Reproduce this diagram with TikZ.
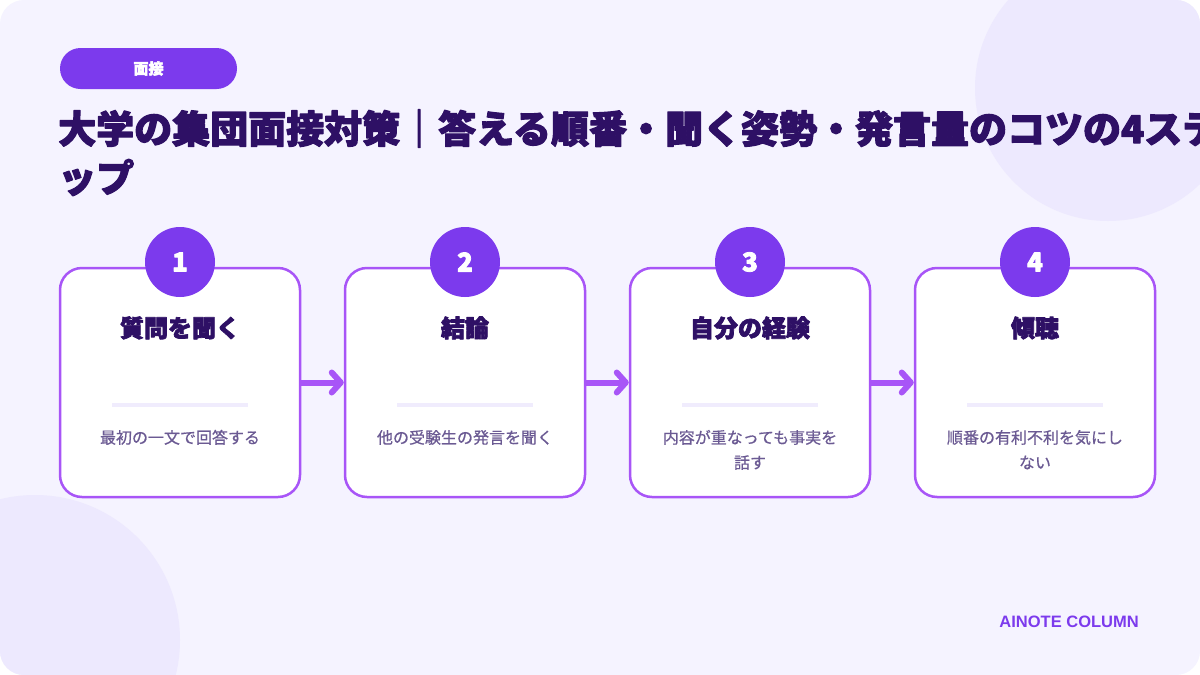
\documentclass[tikz,border=0pt]{standalone}
\usepackage{fontspec}
\usepackage{tikz}
\usetikzlibrary{arrows.meta}

\setmainfont{Noto Sans CJK JP}
\newfontfamily\jpfont{Noto Sans CJK JP}[FakeBold=0.6]
\newfontfamily\jpheavy{Noto Sans CJK JP}[FakeBold=3]
\newfontfamily\brandfont{Liberation Sans}

\definecolor{pagetint}{HTML}{F5F3FF}
\definecolor{blobtint}{HTML}{EDE9FE}
\definecolor{badgeviolet}{HTML}{7C3AED}
\definecolor{cardline}{HTML}{A855F7}
\definecolor{inkdark}{HTML}{2E1065}
\definecolor{notegray}{HTML}{6B5A93}
\definecolor{ruleline}{HTML}{F0ECFD}

\begin{document}
\begin{tikzpicture}[x=1pt,y=-1pt,line join=round,
  stepcard/.style={draw=cardline,line width=2.5pt,fill=white,rounded corners=22pt,
    minimum width=240pt,minimum height=229pt,inner sep=0pt},
  badge/.style={circle,fill=badgeviolet,minimum size=70pt,inner sep=0pt,text=white,
    font=\jpheavy\bfseries\fontsize{26}{26}\selectfont},
  steptitle/.style={anchor=base,inner sep=0pt,text=inkdark,
    font=\jpheavy\bfseries\fontsize{24}{24}\selectfont},
  stepnote/.style={anchor=base,inner sep=0pt,align=center,text=notegray,
    font=\jpfont\fontsize{16}{25}\selectfont},
  divider/.style={draw=ruleline,line width=4pt},
  flow/.style={draw=cardline,line width=6pt,
    -{Straight Barb[length=9pt,width=20pt,round]}}]
  \useasboundingbox (0,0) rectangle (1200,675);
  \fill[white] (0,0) rectangle (1200,675);
  \fill[pagetint,rounded corners=24pt] (0,0) rectangle (1200,675);
  \begin{scope}
    \clip[rounded corners=24pt] (0,0) rectangle (1200,675);
    \fill[blobtint] (1108,88) circle (133);
    \fill[blobtint] (35,640) circle (145);
  \end{scope}

  % header
  \node[fill=badgeviolet,rounded corners=20.5pt,minimum width=177pt,minimum height=41pt,
    inner sep=0pt,text=white,font=\jpheavy\bfseries\fontsize{15}{15}\selectfont]
    (tag) at (148.5,68.5) {面接};
  \node[anchor=base west,inner sep=0pt,text=inkdark,
    font=\jpheavy\bfseries\fontsize{38}{38}\selectfont]
    (head1) at (58,143) {大学の集団面接対策｜答える順番・聞く姿勢・発言量のコツの4ステ};
  \node[anchor=base west,inner sep=0pt,text=inkdark,
    font=\jpheavy\bfseries\fontsize{38}{38}\selectfont]
    (head2) at (58,192) {ップ};

  % step cards
  \node[stepcard] (c1) at (180,382.5) {};
  \node[stepcard] (c2) at (465,382.5) {};
  \node[stepcard] (c3) at (750,382.5) {};
  \node[stepcard] (c4) at (1035,382.5) {};

  \draw[flow] (c1.east) -- (c2.west);
  \draw[flow] (c2.east) -- (c3.west);
  \draw[flow] (c3.east) -- (c4.west);

  \node[badge] (n1) at (180,262) {1};
  \node[badge] (n2) at (465,262) {2};
  \node[badge] (n3) at (750,262) {3};
  \node[badge] (n4) at (1035,262) {4};

  \node[steptitle] (t1) at (180,337) {質問を聞く};
  \node[steptitle] (t2) at (465,337) {結論};
  \node[steptitle] (t3) at (750,337) {自分の経験};
  \node[steptitle] (t4) at (1035,337) {傾聴};

  \draw[divider] (112,405) -- (248,405);
  \draw[divider] (397,405) -- (533,405);
  \draw[divider] (682,405) -- (818,405);
  \draw[divider] (967,405) -- (1103,405);

  % two-line notes sit on the baseline of their last line
  \node[stepnote] (d1) at (180,443.5) {最初の一文で回答する};
  \node[stepnote] (d2) at (465,443.5) {他の受験生の発言を聞く};
  \node[stepnote] (d3) at (750,468.5) {内容が重なっても事実を\\話す};
  \node[stepnote] (d4) at (1035,468.5) {順番の有利不利を気にし\\ない};

  % footer
  \node[anchor=base east,inner sep=0pt,text=badgeviolet,
    font=\brandfont\bfseries\fontsize{16.5}{16.5}\selectfont]
    (brand) at (1139,627) {AINOTE COLUMN};
\end{tikzpicture}
\end{document}
